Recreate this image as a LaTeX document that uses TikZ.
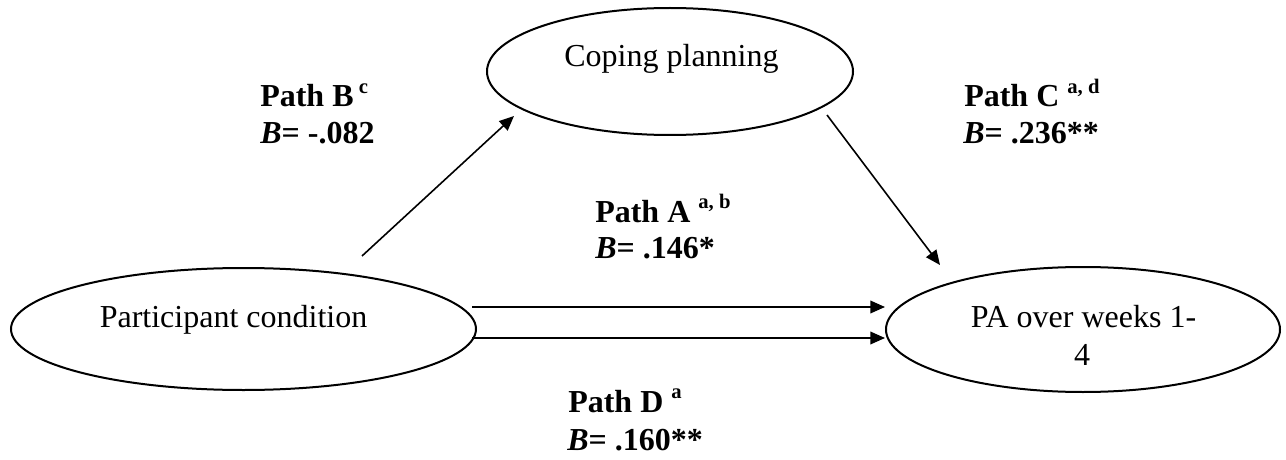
\documentclass[tikz,border=0pt]{standalone}
\usepackage{fontspec}
\setmainfont{Liberation Serif}
\usetikzlibrary{shapes.geometric,arrows.meta}
\newcommand{\sups}[1]{\raisebox{10pt}{\fontsize{15.5}{16}\selectfont\bfseries #1}}
\tikzset{
  oval/.style={draw=black,line width=1.5pt,shape=ellipse,inner sep=0pt},
  maintext/.style={inner sep=0pt,font=\fontsize{24}{28}\selectfont},
  pathtext/.style={inner sep=0pt,anchor=base west,font=\fontsize{24}{28}\selectfont\bfseries},
  conn/.style={line width=1.2pt,-{Triangle[length=11pt,width=9.5pt]}}
}
\begin{document}
\begin{tikzpicture}[x=0.75pt,y=-0.75pt]
\useasboundingbox (0,0) rectangle (1286,460);
% ellipses
\node[oval,minimum width=366*0.75pt,minimum height=127*0.75pt] (cp) at (670,71.5) {};
\node[oval,minimum width=465*0.75pt,minimum height=122*0.75pt] (pc) at (243.5,329) {};
\node[oval,minimum width=394*0.75pt,minimum height=125*0.75pt] (pa) at (1083,329.5) {};
% ellipse texts
\node[maintext,anchor=base] (cpt) at (671.5,67) {Coping planning};
\node[maintext,anchor=base] (pct) at (233.5,327) {Participant condition};
\node[maintext,anchor=base] (pat1) at (1083.5,327) {PA over weeks 1-};
\node[maintext,anchor=base] (pat2) at (1082,365) {4};
% free ends
\coordinate (bs) at (362,256);
\coordinate (be) at (514,116);
\coordinate (cs) at (827,115);
\coordinate (ce) at (940,265);
\coordinate (as) at (472,307);
\coordinate (ds) at (472,338);
% connectors
\draw[conn] (bs) -- (be);
\draw[conn] (cs) -- (ce);
\draw[conn] (as) -- (as -| pa.west);
\draw[conn] (ds) -- (ds -| pa.west);
% path labels
\node[pathtext] (lb1) at (260,107) {Path B\sups{ c}};
\node[pathtext] (lb2) at (260,143) {\textit{B}= -.082};
\node[pathtext] (lc1) at (964,107) {Path C \sups{a, d}};
\node[pathtext] (lc2) at (963,143) {\textit{B}= .236**};
\node[pathtext] (la1) at (595,222) {Path A \sups{a, b}};
\node[pathtext] (la2) at (595,258) {\textit{B}= .146*};
\node[pathtext] (ld1) at (568,412) {Path D \sups{a}};
\node[pathtext] (ld2) at (567,450) {\textit{B}= .160**};
\end{tikzpicture}
\end{document}
